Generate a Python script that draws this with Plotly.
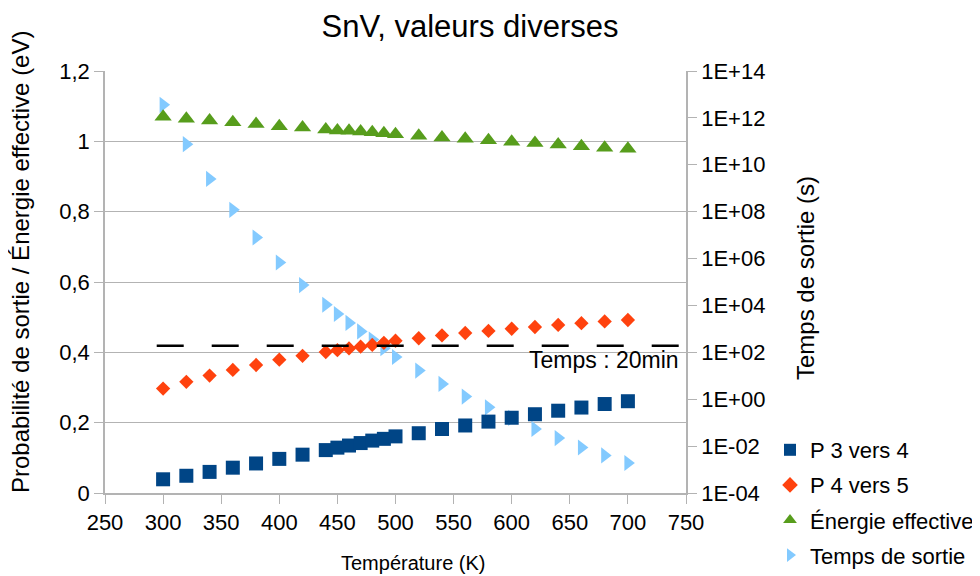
import plotly.graph_objects as go

# ---- data ----
temperature = [300, 320, 340, 360, 380, 400, 420, 440, 450, 460, 470, 480, 490, 500,
               520, 540, 560, 580, 600, 620, 640, 660, 680, 700]
p_3_vers_4 = [0.039, 0.049, 0.060, 0.072, 0.084, 0.097, 0.109, 0.122, 0.129, 0.135, 0.142, 0.149,
              0.154, 0.161, 0.170, 0.182, 0.192, 0.203, 0.214, 0.224, 0.234, 0.243, 0.253, 0.261]
p_4_vers_5 = [0.297, 0.316, 0.334, 0.350, 0.364, 0.379, 0.390, 0.401, 0.406, 0.411, 0.416, 0.421,
              0.427, 0.433, 0.440, 0.448, 0.455, 0.461, 0.467, 0.472, 0.478, 0.483, 0.488, 0.492]
energie_effective = [1.070, 1.064, 1.059, 1.054, 1.049, 1.043, 1.039, 1.034, 1.031, 1.030, 1.028, 1.026,
                     1.023, 1.020, 1.016, 1.011, 1.007, 1.003, 0.999, 0.995, 0.991, 0.986, 0.982, 0.979]
temps_de_sortie = [3.6e12, 7.6e10, 2.5e9, 1.2e8, 7.9e6, 6.8e5, 7.4e4, 1.07e4, 4.3e3, 1.8e3, 780, 350,
                   150, 63, 16.6, 4.5, 1.3, 0.45, 0.16, 0.054, 0.022, 0.0087, 0.004, 0.0019]

x_ticks = [250, 300, 350, 400, 450, 500, 550, 600, 650, 700, 750]
right_tickvals = [1e-4, 1e-2, 1e0, 1e2, 1e4, 1e6, 1e8, 1e10, 1e12, 1e14]
right_ticktext = ["1E-04", "1E-02", "1E+00", "1E+02", "1E+04", "1E+06", "1E+08", "1E+10", "1E+12", "1E+14"]

seuil_20min = 0.419          # dashed reference line, left-axis units
seuil_x = [294.5, 747.5]
seuil_label = "Temps : 20min"

FONT = "Liberation Sans, Arial, sans-serif"
GRID = "#b3b3b3"
OFF = 8                      # page body margin
W, H = 980 - OFF, 576 - OFF
L, T = 105 - OFF, 71 - OFF
R = W - (686 - OFF)
B = H - (493 - OFF)
PW, PH = W - L - R, H - T - B


def px(xs):
    return (xs - OFF - L) / PW


def py(ys):
    return (H - B - (ys - OFF)) / PH


fig = go.Figure()
fig.add_trace(go.Scatter(x=temperature, y=p_3_vers_4, mode="markers", name="P 3 vers 4",
                         legendgroup="a", marker=dict(symbol="square", size=14, color="#004586")))
fig.add_trace(go.Scatter(x=temperature, y=p_4_vers_5, mode="markers", name="P 4 vers 5",
                         legendgroup="b", marker=dict(symbol="diamond", size=11, color="#ff420e")))
fig.add_trace(go.Scatter(x=temperature, y=energie_effective, mode="markers", name="Énergie effective",
                         legendgroup="c", marker=dict(symbol="triangle-up", size=15, color="#579d1c")))
fig.add_trace(go.Scatter(x=temperature, y=temps_de_sortie, mode="markers", name="Temps de sortie",
                         legendgroup="d", yaxis="y2",
                         marker=dict(symbol="triangle-right", size=14, color="#83caff")))

fig.add_shape(type="line", xref="x", yref="y", x0=seuil_x[0], x1=seuil_x[1],
              y0=seuil_20min, y1=seuil_20min, layer="above",
              line=dict(color="black", width=2.5, dash="27px,28px"))
fig.add_annotation(x=612.8, y=0.379, xref="x", yref="y", text=seuil_label, showarrow=False,
                   xanchor="left", yanchor="middle", font=dict(size=23, color="black", family=FONT))

# axis titles as annotations (pixel-placed)
fig.add_annotation(x=px(413), y=py(563), xref="paper", yref="paper",
                   text="Température (K)", showarrow=False,
                   font=dict(size=20, color="black", family=FONT), xanchor="center", yanchor="middle")
fig.add_annotation(x=px(21), y=py(262), xref="paper", yref="paper",
                   text="Probabilité de sortie / Énergie effective (eV)", showarrow=False, textangle=-90,
                   font=dict(size=24, color="black", family=FONT), xanchor="center", yanchor="middle")
fig.add_annotation(x=px(805), y=py(278), xref="paper", yref="paper",
                   text="Temps de sortie (s)", showarrow=False, textangle=-90,
                   font=dict(size=24, color="black", family=FONT), xanchor="center", yanchor="middle")

fig.update_layout(
    width=W, height=H,
    margin=dict(l=L, r=R, t=T, b=B, autoexpand=False),
    paper_bgcolor="white", plot_bgcolor="white",
    separators=", ",
    font=dict(family=FONT, size=22, color="black"),
    title=dict(text="SnV, valeurs diverses", x=(470 - OFF) / W, xanchor="center", y=1 - 18 / H,
               yanchor="middle", xref="container", yref="container",
               font=dict(size=31, color="black", family=FONT)),
    showlegend=True,
    legend=dict(x=(809 - 39 - OFF) / W, y=1 - (429 - OFF) / H, xref="container", yref="container",
                xanchor="left", yanchor="top",
                font=dict(size=22, color="black", family=FONT), bgcolor="rgba(0,0,0,0)",
                traceorder="grouped", tracegroupgap=3.5, itemsizing="constant"),
    xaxis=dict(range=[250, 750], tickvals=x_ticks, showgrid=False, zeroline=False,
               showline=True, linecolor=GRID, linewidth=1.5, ticks="outside", ticklen=9,
               tickcolor=GRID, tickfont=dict(size=22, color="black")),
    yaxis=dict(range=[0, 1.2], dtick=0.2, showgrid=True, gridcolor=GRID, gridwidth=1.2,
               zeroline=False, showline=True, linecolor=GRID, linewidth=1.5, ticks="outside",
               ticklen=9, tickcolor=GRID, tickfont=dict(size=22, color="black"),
               overlaying="y2"),
    yaxis2=dict(type="log", range=[-4, 14], side="right", anchor="x", tickvals=right_tickvals,
                ticktext=right_ticktext, showgrid=False, zeroline=False, showline=True,
                linecolor=GRID, linewidth=1.5, ticks="outside", ticklen=9, tickcolor=GRID,
                tickfont=dict(size=22, color="black")),
)

fig.write_html("out.html")
